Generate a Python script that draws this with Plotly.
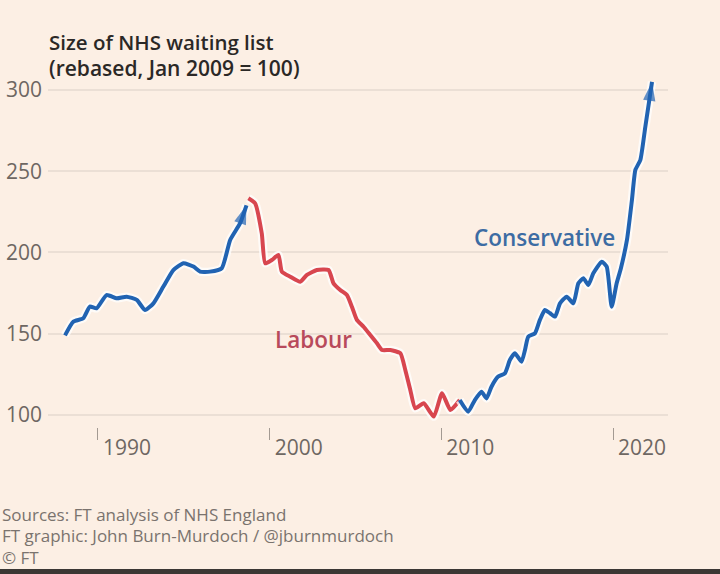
import plotly.graph_objects as go

# --- Data ---
con1_years = [1988.08, 1988.56, 1989.14, 1989.53, 1989.92, 1990.5, 1991.09, 1991.67, 1992.26,
              1992.74, 1993.23, 1993.81, 1994.39, 1994.98, 1995.56, 1995.95, 1996.53, 1997.21,
              1997.70, 1998.28, 1998.65]
con1_values = [149, 157.4, 159.5, 166.7, 165.6, 173.8, 171.8, 172.8, 170.8,
               164.6, 168.7, 179, 189.2, 193.4, 191.3, 188.2, 188.2, 190.3,
               207.7, 218, 229]

lab_years = [1998.76, 1999.15, 1999.54, 1999.74, 2000.13, 2000.51, 2000.71, 2001.20, 2001.78,
             2002.17, 2002.75, 2003.43, 2003.72, 2004.11, 2004.50, 2004.79, 2005.08, 2005.47,
             2005.86, 2006.25, 2006.54, 2007.03, 2007.61, 2007.90, 2008.19, 2008.48, 2008.97,
             2009.56, 2010.04, 2010.53, 2011.07]
lab_values = [233.4, 230.3, 211.8, 193.3, 195.4, 198.5, 188.2, 185.1, 182,
              186.2, 189.2, 189.2, 181, 176.9, 173.8, 166.6, 158.5, 154.3,
              149.2, 144.1, 140, 140, 138, 127.7, 115.4, 104.1, 107.2,
              99, 113.4, 103, 109.2]

con2_years = [2011.07, 2011.56, 2011.95, 2012.34, 2012.63, 2012.92, 2013.31, 2013.70, 2013.99,
              2014.28, 2014.67, 2014.87, 2015.06, 2015.45, 2015.74, 2016.03, 2016.33, 2016.62,
              2016.91, 2017.30, 2017.69, 2017.98, 2018.27, 2018.56, 2018.85, 2019.34, 2019.63,
              2019.92, 2020.21, 2020.45, 2020.81, 2021.10, 2021.30, 2021.59, 2021.88, 2022.27]
con2_values = [109.2, 102, 109.2, 114.3, 110.2, 117.4, 123.6, 125.6, 133.8,
               138, 132.8, 140, 148.2, 150.2, 158.5, 164.6, 162.6, 160.5,
               168.7, 172.8, 168.7, 181, 184.1, 180, 187.2, 194.3, 191.3,
               166.6, 181, 190, 207.7, 232.3, 250.8, 256.9, 277.4, 305]

x_tick_vals = [1990, 2000, 2010, 2020]
x_tick_text = ["1990", "2000", "2010", "2020"]
y_tick_vals = [100, 150, 200, 250, 300]
y_tick_text = ["100", "150", "200", "250", "300"]

BLUE = "#2163b2"
RED = "#d8464f"
BG = "#fcefe4"
HALO = "rgba(255,255,255,0.75)"
FONT = "Open Sans"

fig = go.Figure()

def add_series(xs, ys, color, arrow):
    fig.add_trace(go.Scatter(x=xs, y=ys, mode="lines",
                             line=dict(color=HALO, width=8.5, shape="spline", smoothing=0.5),
                             hoverinfo="skip", showlegend=False))
    fig.add_trace(go.Scatter(x=xs, y=ys, mode="lines",
                             line=dict(color=color, width=4, shape="spline", smoothing=0.5),
                             showlegend=False))
    if arrow:
        fig.add_trace(go.Scatter(x=xs[-2:], y=ys[-2:], mode="markers",
                                 marker=dict(symbol="arrow", size=[0, 20], color=color,
                                             angleref="previous", line=dict(width=0)),
                                 hoverinfo="skip", showlegend=False))

add_series(con1_years, con1_values, BLUE, True)
add_series(lab_years, lab_values, RED, False)
add_series(con2_years, con2_values, BLUE, True)

fig.add_annotation(x=2002.58, y=146.5, text="Labour", showarrow=False,
                   font=dict(family=FONT, size=22.5, color="#b84a5b", weight=600))
fig.add_annotation(x=2016.03, y=209, text="Conservative", showarrow=False,
                   font=dict(family=FONT, size=22.5, color="#3d6ca3", weight=600))

# Titles
fig.add_annotation(xref="paper", yref="paper", x=-0.002, y=(427 - 42) / 352,
                   xanchor="left", yanchor="middle", showarrow=False,
                   text="Size of NHS waiting list",
                   font=dict(family=FONT, size=20.5, color="#2b2826", weight=600))
fig.add_annotation(xref="paper", yref="paper", x=-0.002, y=(427 - 68) / 352,
                   xanchor="left", yanchor="middle", showarrow=False,
                   text="(rebased, Jan 2009 = 100)",
                   font=dict(family=FONT, size=21, color="#2b2826", weight=600))

# Footer
footer = ["Sources: FT analysis of NHS England",
          "FT graphic: John Burn-Murdoch / @jburnmurdoch",
          "© FT"]
for i, t in enumerate(footer):
    fig.add_annotation(xref="paper", yref="paper", x=(0 - 48) / 620,
                       y=(427 - (514 + 21.5 * i)) / 352,
                       xanchor="left", yanchor="middle", showarrow=False, text=t,
                       font=dict(family=FONT, size=17, color="#7a736e"))

# dark strip at bottom of screenshot
fig.add_shape(type="rect", xref="paper", yref="paper",
              x0=-48 / 620, x1=(720 - 48) / 620,
              y0=(427 - 574) / 352, y1=(427 - 569) / 352,
              fillcolor="#3b3734", line=dict(width=0), layer="above")

fig.update_layout(
    width=720, height=574,
    margin=dict(l=48, r=52, t=75, b=147, pad=0),
    paper_bgcolor=BG, plot_bgcolor=BG,
    showlegend=False,
    font=dict(family=FONT),
    xaxis=dict(range=[1987.09, 2023.2], showgrid=False, zeroline=False, showline=False,
               automargin=False,
               tickvals=x_tick_vals, ticktext=x_tick_text,
               ticks="outside", ticklen=12, tickwidth=1, tickcolor="#a39a92",
               ticklabelshift=29, ticklabelstandoff=-10,
               tickfont=dict(family=FONT, size=21, color="#6e6762")),
    yaxis=dict(range=[92.6, 309.2], showgrid=True, gridcolor="#ebdfd5", gridwidth=1.5,
               zeroline=False, showline=False, automargin=False,
               tickvals=y_tick_vals, ticktext=y_tick_text, ticks="",
               ticklabelstandoff=5,
               tickfont=dict(family=FONT, size=21, color="#6e6762")),
)

fig.write_html(
    "out.html",
    config={"displayModeBar": False},
    post_script="document.body.style.margin='0';document.body.style.background='#fcefe4';"
                "document.body.style.overflow='hidden';",
)
